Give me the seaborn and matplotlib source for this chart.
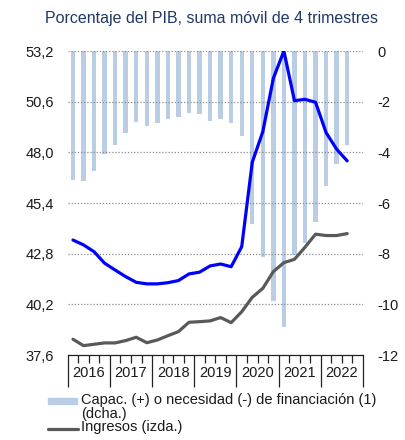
import numpy as np
import pandas as pd
import matplotlib
matplotlib.use("Agg")
import matplotlib.pyplot as plt
from matplotlib.patches import Rectangle
from matplotlib.lines import Line2D
import seaborn as sns

# Quarterly series, 2016Q1 - 2022Q3 (rolling sum of 4 quarters, % of GDP)
years = ["2016", "2017", "2018", "2019", "2020", "2021", "2022"]
quarters = [f"{y}T{q}" for y in range(2016, 2023) for q in range(1, 5)][:27]

capacidad = [-5.10, -5.14, -4.74, -4.05, -3.71, -3.24, -2.79, -2.95, -2.83,
             -2.70, -2.59, -2.46, -2.50, -2.76, -2.70, -2.83, -3.34, -6.84,
             -8.15, -9.87, -10.91, -8.05, -7.57, -6.74, -5.32, -4.45, -3.72]
gastos = [43.50, 43.25, 42.90, 42.31, 41.96, 41.62, 41.33, 41.25, 41.25,
          41.31, 41.42, 41.76, 41.85, 42.17, 42.27, 42.13, 43.16, 47.49,
          49.06, 51.80, 53.20, 50.65, 50.72, 50.57, 49.01, 48.16, 47.56]
ingresos = [38.41, 38.08, 38.15, 38.22, 38.22, 38.34, 38.51, 38.23, 38.37,
            38.59, 38.80, 39.28, 39.31, 39.35, 39.52, 39.26, 39.82, 40.56,
            41.02, 41.88, 42.34, 42.51, 43.13, 43.80, 43.73, 43.73, 43.83]

left_ticks = [37.6, 40.2, 42.8, 45.4, 48.0, 50.6, 53.2]
right_ticks = [-12, -10, -8, -6, -4, -2, 0]

df = pd.DataFrame({"trimestre": quarters, "pos": np.arange(len(quarters)),
                   "capacidad": capacidad, "gastos": gastos,
                   "ingresos": ingresos})

sns.set_style("white")
plt.rcParams["font.family"] = ["Liberation Sans", "DejaVu Sans"]

W, H = 406, 440
PT = 72 / 100  # points per pixel at 100 dpi
fig = plt.figure(figsize=(W / 100, H / 100), dpi=100)
x0, x1, y_top, y_bot = 67.7, 363.0, 51.0, 355.0
ax = fig.add_axes([x0 / W, 1 - y_bot / H, (x1 - x0) / W, (y_bot - y_top) / H])
ax2 = ax.twinx()

# Bars on the right-hand scale, drawn underneath the lines
ax.set_zorder(2)
ax.patch.set_visible(False)
ax2.set_zorder(1)

sns.barplot(data=df, x="trimestre", y="capacidad", order=quarters, ax=ax2,
            color="#b9cde5", width=0.42, saturation=1, linewidth=0)
sns.lineplot(data=df, x="pos", y="gastos", ax=ax, color="#0000ff",
             linewidth=2.3, solid_joinstyle="round")
sns.lineplot(data=df, x="pos", y="ingresos", ax=ax, color="#595959",
             linewidth=2.3, solid_joinstyle="round")

for a in (ax, ax2):
    a.set_xlim(-0.5, 27.5)
    a.set_xlabel("")
    a.set_ylabel("")
    for s in a.spines.values():
        s.set_visible(False)
ax.set_ylim(37.6, 53.2)
ax2.set_ylim(-12, 0)
ax.set_yticks(left_ticks)
ax.set_yticklabels([f"{v:.1f}".replace(".", ",") for v in left_ticks])
ax2.set_yticks(right_ticks)
ax2.set_yticklabels([str(v) for v in right_ticks])
ax2.tick_params(axis="x", which="both", bottom=False, labelbottom=False)

ax.tick_params(axis="y", length=0, pad=10, labelsize=10.5, labelcolor="#1a1a1a")
ax2.tick_params(axis="y", length=0, pad=10, labelsize=10.5, labelcolor="#1a1a1a")

# Dotted horizontal grid
for v in left_ticks[1:]:
    ax.axhline(v, color="#8c8c8c", linestyle=(0, (1, 1.5)), linewidth=0.9,
               zorder=0)

# Quarter ticks and year separators on the time axis
ax.spines["bottom"].set_visible(True)
ax.spines["bottom"].set_color("#222222")
ax.spines["bottom"].set_linewidth(0.9)
ax.set_xticks([4 * i - 0.5 for i in range(8)])
ax.set_xticks([q - 0.5 for q in range(28) if q % 4], minor=True)
ax.set_xticklabels([])
ax.tick_params(axis="x", which="major", bottom=True, length=32 * PT, width=0.9,
               color="#222222", direction="out")
ax.tick_params(axis="x", which="minor", bottom=True, length=7.5 * PT, width=0.9,
               color="#222222", direction="out")
for i, y in enumerate(years):
    ax.text(4 * i + 1.5, -0.06, y, transform=ax.get_xaxis_transform(),
            ha="center", va="center", fontsize=10.5, color="#1a1a1a")

# Title
fig.text(212 / W, 1 - 18 / H, "Porcentaje del PIB, suma móvil de 4 trimestres",
         ha="center", va="center", fontsize=11.5, color="#203864")

# Legend
fig.patches.append(Rectangle((48 / W, 1 - 404 / H), 29 / W, 6 / H,
                             transform=fig.transFigure, color="#b9cde5"))
fig.text(81 / W, 1 - 400 / H, "Capac. (+) o necesidad (-) de financiación (1)",
         ha="left", va="center", fontsize=10.5, color="#1a1a1a")
fig.text(81 / W, 1 - 414 / H, "(dcha.)",
         ha="left", va="center", fontsize=10.5, color="#1a1a1a")
fig.lines.append(Line2D([48 / W, 78 / W], [1 - 429 / H, 1 - 429 / H],
                        transform=fig.transFigure, color="#595959",
                        linewidth=2.3))
fig.text(81 / W, 1 - 427 / H, "Ingresos (izda.)",
         ha="left", va="center", fontsize=10.5, color="#1a1a1a")

fig.savefig("out.png", dpi=100)
